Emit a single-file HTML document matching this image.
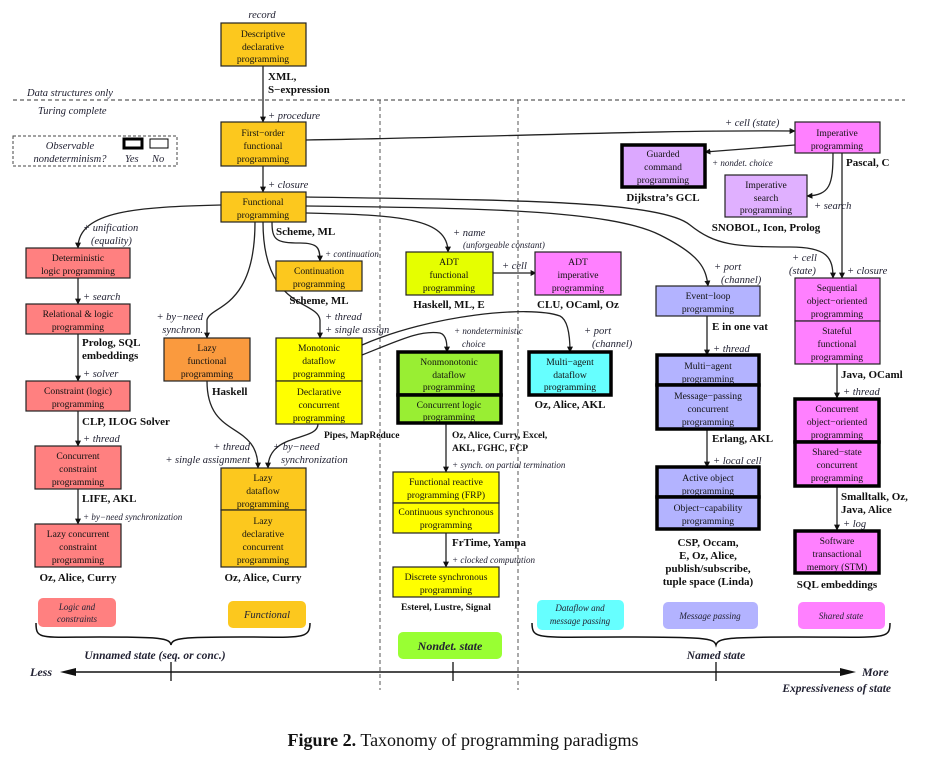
<!DOCTYPE html>
<html><head><meta charset="utf-8"><style>
html,body{margin:0;padding:0;background:#fff;}
svg{display:block;}
text{font-family:"Liberation Serif",serif;fill:#111;}
.b{font-size:9.6px;text-anchor:middle;fill:#222;}
.bd{font-size:11px;font-weight:bold;}
.bc{font-size:11px;font-weight:bold;text-anchor:middle;}
.i{font-size:10.5px;font-style:italic;fill:#223;}
.is{font-size:9px;font-style:italic;fill:#223;}
.ln{fill:none;stroke:#222;stroke-width:1.3;}
</style></head><body>
<svg width="927" height="763" viewBox="0 0 927 763" xmlns="http://www.w3.org/2000/svg">
<defs><marker id="a" viewBox="0 0 10 10" refX="9" refY="5" markerWidth="6" markerHeight="7" orient="auto" markerUnits="userSpaceOnUse"><path d="M0,0 L10,5 L0,10 z" fill="#111"/></marker></defs>

<!-- dashed separators -->
<line x1="13" y1="100" x2="905" y2="100" stroke="#333" stroke-dasharray="4,3" stroke-width="1"/>
<line x1="380" y1="100" x2="380" y2="690" stroke="#555" stroke-dasharray="4,3" stroke-width="1"/>
<line x1="518" y1="100" x2="518" y2="690" stroke="#555" stroke-dasharray="4,3" stroke-width="1"/>
<text x="27" y="96" class="i">Data structures only</text>
<text x="38" y="114" class="i">Turing complete</text>

<!-- legend -->
<rect x="13" y="136" width="164" height="30" fill="none" stroke="#444" stroke-dasharray="3,2"/>
<text x="70" y="149" class="i" text-anchor="middle">Observable</text>
<text x="70" y="162" class="i" text-anchor="middle">nondeterminism?</text>
<rect x="124" y="139" width="18" height="9" fill="#fff" stroke="#000" stroke-width="3"/>
<rect x="150" y="139" width="18" height="9" fill="#fff" stroke="#000" stroke-width="1"/>
<text x="125" y="162" class="i">Yes</text><text x="152" y="162" class="i">No</text>

<!-- connectors -->
<g class="ln">
<path d="M263,66 L263,122" marker-end="url(#a)"/>
<path d="M263,166 L263,192" marker-end="url(#a)"/>
<path d="M306,140 C500,137 650,130 795,131" marker-end="url(#a)"/>
<path d="M795,145 L705,152" marker-end="url(#a)"/>
<path d="M833,153 C833,185 830,195 807,196" marker-end="url(#a)"/>
<path d="M842,153 L842,278" marker-end="url(#a)"/>
<path d="M306,197 C500,200 660,200 690,225 C715,245 735,247 790,247 C828,247 833,258 833,278" marker-end="url(#a)"/>
<path d="M306,206 C480,208 610,210 660,235 C700,255 706,268 708,286" marker-end="url(#a)"/>
<path d="M306,213 C400,215 448,218 448,252" marker-end="url(#a)"/>
<path d="M221,205 C140,207 78,210 78,248" marker-end="url(#a)"/>
<path d="M272,222 C272,240 276,243 300,243 C318,243 320,248 320,261" marker-end="url(#a)"/>
<path d="M255,222 C255,310 210,305 207,320 L207,338" marker-end="url(#a)"/>
<path d="M263,222 C263,310 318,300 320,320 L320,338" marker-end="url(#a)"/>
<path d="M207,381 C207,440 258,420 258,468" marker-end="url(#a)"/>
<path d="M318,424 C318,442 268,432 268,468" marker-end="url(#a)"/>
<path d="M362,355 C400,340 420,330 440,333 C447,335 447,345 447,352" marker-end="url(#a)"/>
<path d="M362,345 C430,315 530,305 560,316 C568,320 570,335 570,352" marker-end="url(#a)"/>
<path d="M491,273 L536,273" marker-end="url(#a)"/>
<path d="M78,278 L78,304" marker-end="url(#a)"/>
<path d="M78,334 L78,381" marker-end="url(#a)"/>
<path d="M78,411 L78,446" marker-end="url(#a)"/>
<path d="M78,489 L78,524" marker-end="url(#a)"/>
<path d="M446,423 L446,472" marker-end="url(#a)"/>
<path d="M446,533 L446,567" marker-end="url(#a)"/>
<path d="M707,316 L707,355" marker-end="url(#a)"/>
<path d="M707,429 L707,467" marker-end="url(#a)"/>
<path d="M837,364 L837,398" marker-end="url(#a)"/>
<path d="M837,486 L837,530" marker-end="url(#a)"/>
</g>

<!-- boxes -->
<g stroke="#222" stroke-width="1.2">
<rect x="221" y="23" width="85" height="43" fill="#fcc81e"/>
<rect x="221" y="122" width="85" height="44" fill="#fcc81e"/>
<rect x="221" y="192" width="85" height="30" fill="#fcc81e"/>
<rect x="26" y="248" width="104" height="30" fill="#ff8080"/>
<rect x="26" y="304" width="104" height="30" fill="#ff8080"/>
<rect x="26" y="381" width="104" height="30" fill="#ff8080"/>
<rect x="35" y="446" width="86" height="43" fill="#ff8080"/>
<rect x="35" y="524" width="86" height="43" fill="#ff8080"/>
<rect x="276" y="261" width="86" height="30" fill="#fcc81e"/>
<rect x="164" y="338" width="86" height="43" fill="#fa9a3e"/>
<rect x="276" y="338" width="86" height="43" fill="#ffff00"/>
<rect x="276" y="381" width="86" height="43" fill="#ffff00"/>
<rect x="221" y="468" width="85" height="42" fill="#fcc81e"/>
<rect x="221" y="510" width="85" height="57" fill="#fcc81e"/>
<rect x="406" y="252" width="87" height="43" fill="#e5ff00"/>
<rect x="535" y="252" width="86" height="43" fill="#ff80ff"/>
<rect x="393" y="472" width="106" height="31" fill="#ffff00"/>
<rect x="393" y="503" width="106" height="30" fill="#ffff00"/>
<rect x="393" y="567" width="106" height="30" fill="#ffff00"/>
<rect x="795" y="122" width="85" height="31" fill="#ff80ff"/>
<rect x="725" y="175" width="82" height="42" fill="#e0b0ff"/>
<rect x="656" y="286" width="104" height="30" fill="#b3b3ff"/>
<rect x="795" y="278" width="85" height="43" fill="#ff80ff"/>
<rect x="795" y="321" width="85" height="43" fill="#ff80ff"/>
</g>
<g stroke="#000" stroke-width="3.5">
<rect x="398" y="352" width="103" height="43" fill="#99ee33"/>
<rect x="398" y="395" width="103" height="28" fill="#99ee33"/>
<rect x="529" y="352" width="82" height="43" fill="#66ffff"/>
<rect x="622" y="145" width="83" height="42" fill="#dca8ff"/>
<rect x="657" y="355" width="102" height="30" fill="#b3b3ff"/>
<rect x="657" y="385" width="102" height="44" fill="#b3b3ff"/>
<rect x="657" y="467" width="102" height="30" fill="#b3b3ff"/>
<rect x="657" y="497" width="102" height="32" fill="#b3b3ff"/>
<rect x="795" y="399" width="84" height="43" fill="#ff80ff"/>
<rect x="795" y="442" width="84" height="44" fill="#ff80ff"/>
<rect x="795" y="531" width="84" height="42" fill="#ff80ff"/>
</g>

<!-- box text -->
<g class="b">
<text x="263" y="37">Descriptive</text><text x="263" y="50">declarative</text><text x="263" y="62">programming</text>
<text x="263" y="136">First−order</text><text x="263" y="149">functional</text><text x="263" y="162">programming</text>
<text x="263" y="205">Functional</text><text x="263" y="218">programming</text>
<text x="78" y="261">Deterministic</text><text x="78" y="274">logic programming</text>
<text x="78" y="317">Relational &amp; logic</text><text x="78" y="330">programming</text>
<text x="78" y="394">Constraint (logic)</text><text x="78" y="407">programming</text>
<text x="78" y="459">Concurrent</text><text x="78" y="472">constraint</text><text x="78" y="485">programming</text>
<text x="78" y="537">Lazy concurrent</text><text x="78" y="550">constraint</text><text x="78" y="563">programming</text>
<text x="319" y="274">Continuation</text><text x="319" y="287">programming</text>
<text x="207" y="351">Lazy</text><text x="207" y="364">functional</text><text x="207" y="377">programming</text>
<text x="319" y="351">Monotonic</text><text x="319" y="364">dataflow</text><text x="319" y="377">programming</text>
<text x="319" y="395">Declarative</text><text x="319" y="408">concurrent</text><text x="319" y="421">programming</text>
<text x="263" y="481">Lazy</text><text x="263" y="494">dataflow</text><text x="263" y="507">programming</text>
<text x="263" y="524">Lazy</text><text x="263" y="537">declarative</text><text x="263" y="550">concurrent</text><text x="263" y="563">programming</text>
<text x="449" y="265">ADT</text><text x="449" y="278">functional</text><text x="449" y="291">programming</text>
<text x="578" y="265">ADT</text><text x="578" y="278">imperative</text><text x="578" y="291">programming</text>
<text x="449" y="365">Nonmonotonic</text><text x="449" y="378">dataflow</text><text x="449" y="390">programming</text>
<text x="449" y="408">Concurrent logic</text><text x="449" y="420">programming</text>
<text x="570" y="365">Multi−agent</text><text x="570" y="378">dataflow</text><text x="570" y="390">programming</text>
<text x="446" y="485">Functional reactive</text><text x="446" y="498">programming (FRP)</text>
<text x="446" y="515">Continuous synchronous</text><text x="446" y="528">programming</text>
<text x="446" y="580">Discrete synchronous</text><text x="446" y="593">programming</text>
<text x="837" y="136">Imperative</text><text x="837" y="149">programming</text>
<text x="663" y="157">Guarded</text><text x="663" y="170">command</text><text x="663" y="183">programming</text>
<text x="766" y="188">Imperative</text><text x="766" y="201">search</text><text x="766" y="213">programming</text>
<text x="708" y="299">Event−loop</text><text x="708" y="312">programming</text>
<text x="708" y="369">Multi−agent</text><text x="708" y="382">programming</text>
<text x="708" y="399">Message−passing</text><text x="708" y="412">concurrent</text><text x="708" y="425">programming</text>
<text x="708" y="481">Active object</text><text x="708" y="494">programming</text>
<text x="708" y="511">Object−capability</text><text x="708" y="524">programming</text>
<text x="837" y="291">Sequential</text><text x="837" y="304">object−oriented</text><text x="837" y="317">programming</text>
<text x="837" y="334">Stateful</text><text x="837" y="347">functional</text><text x="837" y="360">programming</text>
<text x="837" y="412">Concurrent</text><text x="837" y="425">object−oriented</text><text x="837" y="438">programming</text>
<text x="837" y="455">Shared−state</text><text x="837" y="468">concurrent</text><text x="837" y="481">programming</text>
<text x="837" y="544">Software</text><text x="837" y="557">transactional</text><text x="837" y="570">memory (STM)</text>
</g>

<!-- bold language labels -->
<text x="268" y="80" class="bd">XML,</text><text x="268" y="93" class="bd">S−expression</text>
<text x="276" y="235" class="bd">Scheme, ML</text>
<text x="319" y="304" class="bc">Scheme, ML</text>
<text x="82" y="346" class="bd">Prolog, SQL</text><text x="82" y="359" class="bd">embeddings</text>
<text x="82" y="425" class="bd">CLP, ILOG Solver</text>
<text x="82" y="502" class="bd">LIFE, AKL</text>
<text x="78" y="581" class="bc">Oz, Alice, Curry</text>
<text x="212" y="395" class="bd">Haskell</text>
<text x="324" y="438" class="bd" style="font-size:9.5px">Pipes, MapReduce</text>
<text x="263" y="581" class="bc">Oz, Alice, Curry</text>
<text x="449" y="308" class="bc">Haskell, ML, E</text>
<text x="578" y="308" class="bc">CLU, OCaml, Oz</text>
<text x="452" y="438" class="bd" style="font-size:9.5px">Oz, Alice, Curry, Excel,</text>
<text x="452" y="451" class="bd" style="font-size:9.5px">AKL, FGHC, FCP</text>
<text x="570" y="408" class="bc">Oz, Alice, AKL</text>
<text x="452" y="546" class="bd">FrTime, Yampa</text>
<text x="446" y="610" class="bc" style="font-size:9.5px">Esterel, Lustre, Signal</text>
<text x="663" y="201" class="bc">Dijkstra’s GCL</text>
<text x="846" y="166" class="bd">Pascal, C</text>
<text x="766" y="231" class="bc">SNOBOL, Icon, Prolog</text>
<text x="712" y="330" class="bd">E in one vat</text>
<text x="712" y="442" class="bd">Erlang, AKL</text>
<text x="708" y="546" class="bc">CSP, Occam,</text><text x="708" y="559" class="bc">E, Oz, Alice,</text>
<text x="708" y="572" class="bc">publish/subscribe,</text><text x="708" y="585" class="bc">tuple space (Linda)</text>
<text x="841" y="378" class="bd">Java, OCaml</text>
<text x="841" y="500" class="bd">Smalltalk, Oz,</text><text x="841" y="513" class="bd">Java, Alice</text>
<text x="837" y="588" class="bc">SQL embeddings</text>

<!-- italic edge labels -->
<text x="262" y="18" class="i" text-anchor="middle">record</text>
<text x="268" y="119" class="i">+ procedure</text>
<text x="268" y="188" class="i">+ closure</text>
<text x="83" y="231" class="i">+ unification</text><text x="91" y="244" class="i">(equality)</text>
<text x="83" y="300" class="i">+ search</text>
<text x="83" y="377" class="i">+ solver</text>
<text x="83" y="442" class="i">+ thread</text>
<text x="83" y="520" class="is">+ by−need synchronization</text>
<text x="325" y="257" class="is">+ continuation</text>
<text x="203" y="320" class="i" text-anchor="end">+ by−need</text><text x="203" y="333" class="i" text-anchor="end">synchron.</text>
<text x="325" y="320" class="i">+ thread</text><text x="325" y="333" class="i">+ single assign</text>
<text x="250" y="450" class="i" text-anchor="end">+ thread</text><text x="250" y="463" class="i" text-anchor="end">+ single assignment</text>
<text x="273" y="450" class="i">+ by−need</text><text x="281" y="463" class="i">synchronization</text>
<text x="453" y="236" class="i">+ name</text><text x="463" y="248" class="is">(unforgeable constant)</text>
<text x="502" y="269" class="i">+ cell</text>
<text x="454" y="334" class="is">+ nondeterministic</text><text x="462" y="347" class="is">choice</text>
<text x="584" y="334" class="i">+ port</text><text x="592" y="347" class="i">(channel)</text>
<text x="452" y="468" class="is">+ synch. on partial termination</text>
<text x="452" y="563" class="is">+ clocked computation</text>
<text x="725" y="126" class="i">+ cell (state)</text>
<text x="712" y="166" class="is">+ nondet. choice</text>
<text x="814" y="209" class="i">+ search</text>
<text x="792" y="261" class="i">+ cell</text><text x="789" y="274" class="i">(state)</text>
<text x="847" y="274" class="i">+ closure</text>
<text x="714" y="270" class="i">+ port</text><text x="721" y="283" class="i">(channel)</text>
<text x="713" y="352" class="i">+ thread</text>
<text x="713" y="464" class="i">+ local cell</text>
<text x="843" y="395" class="i">+ thread</text>
<text x="843" y="527" class="i">+ log</text>

<!-- category pills -->
<rect x="38" y="598" width="78" height="29" rx="5" fill="#ff8080"/>
<text x="77" y="610" class="is" text-anchor="middle">Logic and</text><text x="77" y="622" class="is" text-anchor="middle">constraints</text>
<rect x="228" y="601" width="78" height="27" rx="5" fill="#fcc81e"/>
<text x="267" y="618" class="i" text-anchor="middle">Functional</text>
<rect x="398" y="632" width="104" height="27" rx="5" fill="#99ff33"/>
<text x="450" y="650" class="i" text-anchor="middle" style="font-weight:bold;font-size:12px">Nondet. state</text>
<rect x="537" y="600" width="87" height="30" rx="5" fill="#66ffff"/>
<text x="580" y="611" class="is" text-anchor="middle">Dataflow and</text><text x="580" y="624" class="is" text-anchor="middle">message passing</text>
<rect x="663" y="602" width="95" height="27" rx="5" fill="#b3b3ff"/>
<text x="710" y="619" class="is" text-anchor="middle">Message passing</text>
<rect x="798" y="602" width="87" height="27" rx="5" fill="#ff80ff"/>
<text x="841" y="619" class="is" text-anchor="middle">Shared state</text>

<!-- braces -->
<path d="M36,623 C36,640 40,637 100,637 C160,637 170,638 171,645 C172,638 182,637 240,637 C300,637 310,640 310,623" fill="none" stroke="#111" stroke-width="1.5"/>
<path d="M532,623 C532,640 538,637 620,637 C705,637 714,638 716,645 C718,638 727,637 800,637 C885,637 890,640 890,623" fill="none" stroke="#111" stroke-width="1.5"/>
<text x="155" y="659" class="i" text-anchor="middle" style="font-weight:bold;font-size:11.5px">Unnamed state (seq. or conc.)</text>
<text x="716" y="659" class="i" text-anchor="middle" style="font-weight:bold;font-size:11.5px">Named state</text>

<!-- axis -->
<line x1="66" y1="672" x2="850" y2="672" stroke="#111" stroke-width="1.5"/>
<path d="M60,672 L76,668 L76,676 z" fill="#111"/>
<path d="M856,672 L840,668 L840,676 z" fill="#111"/>
<line x1="171" y1="662" x2="171" y2="681" stroke="#111" stroke-width="1.3"/>
<line x1="453" y1="662" x2="453" y2="681" stroke="#111" stroke-width="1.3"/>
<line x1="716" y1="662" x2="716" y2="681" stroke="#111" stroke-width="1.3"/>
<text x="30" y="676" class="i" style="font-weight:bold;font-size:12px">Less</text>
<text x="862" y="676" class="i" style="font-weight:bold;font-size:12px">More</text>
<text x="891" y="692" class="i" text-anchor="end" style="font-weight:bold;font-size:11.5px">Expressiveness of state</text>

<!-- caption -->
<text x="463" y="746" text-anchor="middle" style="font-size:18px"><tspan font-weight="bold">Figure 2.</tspan> Taxonomy of programming paradigms</text>
</svg>
</body></html>
